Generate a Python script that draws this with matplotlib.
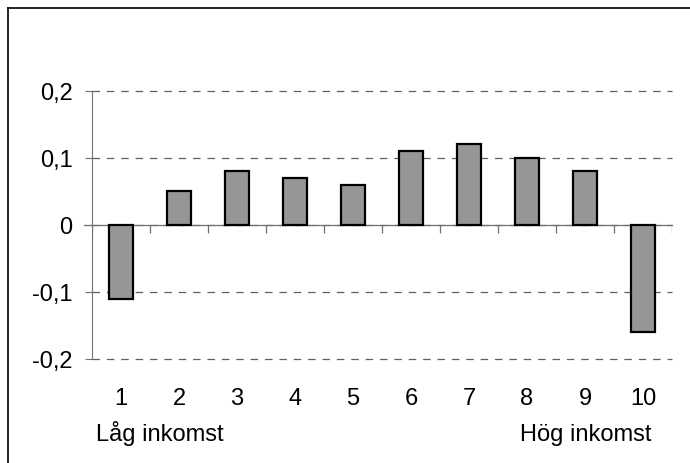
import numpy as np
import matplotlib
matplotlib.use('Agg')
import matplotlib.pyplot as plt
from matplotlib.lines import Line2D

deciles = ['1', '2', '3', '4', '5', '6', '7', '8', '9', '10']
values = [-0.11, 0.05, 0.08, 0.07, 0.06, 0.11, 0.12, 0.10, 0.08, -0.16]
yticks = [-0.2, -0.1, 0, 0.1, 0.2]
ylabels = ['-0,2', '-0,1', '0', '0,1', '0,2']

plt.rcParams['font.family'] = ['Liberation Sans', 'DejaVu Sans']

W, H = 690, 464
fig = plt.figure(figsize=(W / 100, H / 100), dpi=100)
ax = fig.add_axes([92 / W, (H - 360) / H, (672 - 92) / W, (360 - 91.7) / H])

x = np.arange(1, len(values) + 1)
ax.bar(x, values, width=0.41, color='#969696', edgecolor='black', linewidth=1.6, zorder=3)

ax.set_xlim(0.5, len(values) + 0.5)
ax.set_ylim(-0.2, 0.2)
ax.set_yticks(yticks)
ax.set_yticklabels(ylabels, fontsize=17)
ax.set_xticks(x)
ax.set_xticklabels(deciles, fontsize=17)
ax.tick_params(axis='x', length=0, pad=20)
ax.tick_params(axis='y', length=5, width=0.8, color='#707070', pad=9)

for s in ['top', 'right', 'bottom']:
    ax.spines[s].set_visible(False)
ax.spines['left'].set_color('#707070')
ax.spines['left'].set_linewidth(0.8)

ax.yaxis.grid(True, color='#606060', linewidth=0.9, linestyle=(0, (6, 5.5)))
for gl in ax.get_ygridlines():
    gl.set_clip_on(False)
ax.set_axisbelow(True)

# category axis at zero with tick marks between the bars
ax.axhline(0, xmin=-0.013, xmax=1, color='#707070', linewidth=0.9, clip_on=False, zorder=2)
ax.vlines(np.arange(0.5, len(values) + 1), 0, -0.012, color='#707070', linewidth=0.9, zorder=2)

fig.text(96 / W, (H - 441) / H, 'Låg inkomst', fontsize=17, ha='left', va='baseline')
fig.text(651 / W, (H - 441) / H, 'Hög inkomst', fontsize=17, ha='right', va='baseline')

# outer frame (only left and top edges fall inside the picture)
fig.add_artist(Line2D([8 / W, 8 / W], [-0.1, 1 - 9 / H], color='black', linewidth=1.2,
                      transform=fig.transFigure))
fig.add_artist(Line2D([8 / W, 1.1], [1 - 9 / H, 1 - 9 / H], color='black', linewidth=1.2,
                      transform=fig.transFigure))

fig.savefig('out.png', dpi=100)
